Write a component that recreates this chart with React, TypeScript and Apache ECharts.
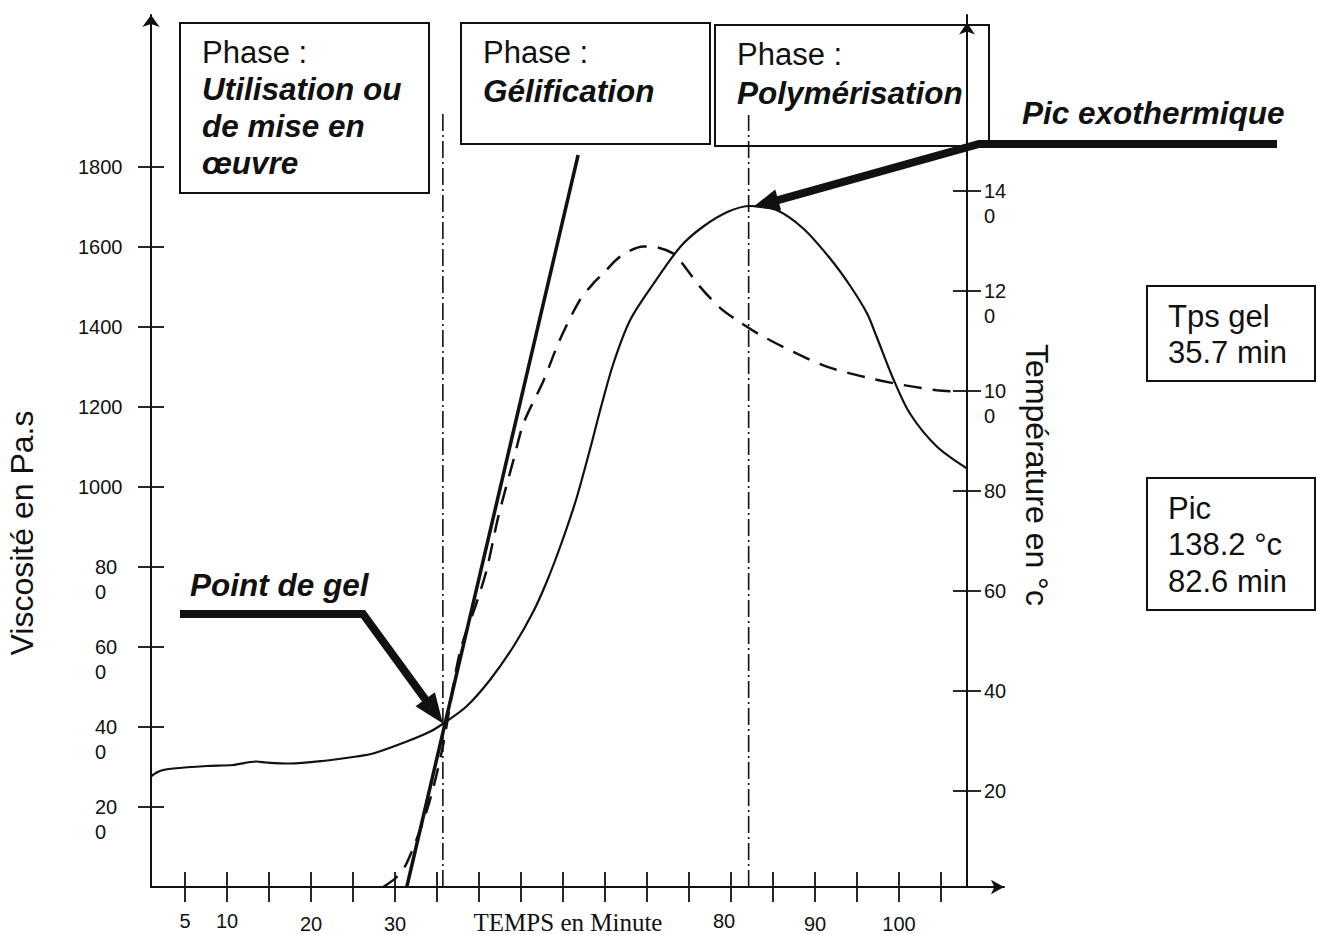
import React, { useEffect, useRef } from 'react';
import * as echarts from 'echarts';

// ---------------- data ----------------
// x values are in minutes on the drawn tick scale (one tick = 5 min)
const tempMinutes = [1.0, 2.0, 3.6, 7.6, 10.7, 13.5, 14.7, 17.5, 21.4, 25.4, 27.4, 31.4, 34.2, 35.75, 38.5, 41.3, 44.1, 46.5, 48.1, 49.8, 51.6, 53.4, 54.4, 56.0, 58.0, 60.8, 64.0, 66.7, 69.7, 72.3, 75.4, 78.6, 81.8, 84.2, 86.2, 87.3, 89.3, 91.3, 94.5, 98.1];
const tempValues = [23.0, 24.0, 24.5, 25.0, 25.2, 25.9, 25.7, 25.5, 26.0, 26.9, 27.5, 29.9, 31.9, 33.5, 36.9, 42.2, 48.9, 56.0, 62.0, 69.5, 78.5, 89.5, 96.0, 105.5, 114.2, 121.5, 128.9, 132.9, 135.9, 137.0, 136.2, 132.5, 126.5, 121.0, 115.5, 111.0, 102.5, 95.5, 88.9, 84.5];

const viscMinutes = [28.6, 30.2, 31.4, 33.8, 35.6, 37.7, 39.7, 40.9, 42.3, 44.1, 45.3, 47.7, 49.6, 52.0, 53.6, 54.8, 56.8, 59.6, 61.2, 63.1, 63.9, 66.3, 68.7, 70.7, 73.5, 77.4, 81.4, 86.5, 90.5, 94.5, 97.3];
const viscValues = [0, 25, 60, 192, 342, 585, 710, 792, 926, 1067, 1159, 1267, 1367, 1467, 1509, 1534, 1576, 1601, 1599, 1584, 1567, 1501, 1448, 1417, 1380, 1338, 1301, 1272, 1255, 1242, 1238];

const tangentMinutes = [31.4, 51.8];
const tangentValues = [0, 1830];

const markerMinutes = [35.7, 72.1]; // gel point / exothermic peak (dash-dot lines)
const markerTops = [1935, 1930];

const gelPoint = [35.7, 33.5];
const peakPoint = [72.4, 137.0];

const xTickValues = [5, 10, 15, 20, 25, 30, 35, 40, 45, 50, 55, 60, 65, 70, 75, 80, 85, 90, 95];
const xLabelValues = [5, 10, 20, 30, 70, 80, 90];
const xLabelTexts = ['5', '10', '20', '30', '80', '90', '100'];

const viscTickValues = [200, 400, 600, 800, 1000, 1200, 1400, 1600, 1800];
const viscTickLabels = ['20\n0', '40\n0', '60\n0', '80\n0', '1000', '1200', '1400', '1600', '1800'];

const tempTickValues = [20, 40, 60, 80, 100, 120, 140];
const tempTickLabels = ['20', '40', '60', '80', '10\n0', '12\n0', '14\n0'];

// ---------------- styling ----------------
const FONT = "'Liberation Sans', Arial, Helvetica, sans-serif";
const SERIF = "'Liberation Serif', 'Times New Roman', serif";
const INK = '#111';

const X_MIN = 0.952, X_MAX = 102.5;
const V_MIN = 0, V_MAX = 2180;
const T_MIN = 0.8, T_MAX = 175.2;

const zip = (a: number[], b: number[]) => a.map((v, i) => [v, b[i]]);

const stacked = (s: string) => {
  const parts = s.split('\n');
  if (parts.length === 1) return `{p|${s}}`;
  return ['{b|\u00a0}', ...parts.map((p) => `{w|${p}}`)].join('\n');
};

const lowX = new Set(['20', '30', '90', '100']);
const shiftX = new Set(['80']);

const tickStyle = { color: INK, width: 1.8 };

function buildOption(): any {
  const baseX = { type: 'value', min: X_MIN, max: X_MAX, position: 'bottom', splitLine: { show: false } };
  const baseV = { type: 'value', min: V_MIN, max: V_MAX, position: 'left', splitLine: { show: false } };
  const baseT = { type: 'value', min: T_MIN, max: T_MAX, position: 'right', offset: -37, splitLine: { show: false } };
  return {
    animation: false,
    textStyle: { fontFamily: FONT, color: INK },
    grid: { left: 151, top: 15, width: 853, height: 872, containLabel: false, outerBoundsMode: 'none' },
    xAxis: [
      {
        ...baseX,
        axisLine: { show: true, onZero: false, symbol: ['none', 'arrow'], symbolSize: [11, 13], lineStyle: { color: INK, width: 2 } },
        axisTick: { show: true, customValues: xTickValues, length: 15, lineStyle: tickStyle },
        axisLabel: {
          show: true,
          customValues: xLabelValues,
          margin: 24,
          color: INK,
          fontSize: 20,
          fontFamily: FONT,
          formatter: (v: number) => {
            const i = xLabelValues.indexOf(Math.round(v));
            const t = i >= 0 ? xLabelTexts[i] : '';
            const key = lowX.has(t) ? 'lo' : shiftX.has(t) ? 'sh' : 'hi';
            return `{${key}|${t}}`;
          },
          rich: {
            hi: { fontSize: 20, lineHeight: 20, fontFamily: FONT, color: INK },
            lo: { fontSize: 20, lineHeight: 20, fontFamily: FONT, color: INK, padding: [5, 0, 0, 0] },
            sh: { fontSize: 20, lineHeight: 20, fontFamily: FONT, color: INK, padding: [0, 14, 0, 0] },
          },
        },
      },
      {
        ...baseX,
        axisLine: { show: false, onZero: false },
        axisTick: { show: true, inside: true, customValues: xTickValues, length: 15, lineStyle: tickStyle },
        axisLabel: { show: false },
      },
    ],
    yAxis: [
      {
        ...baseV,
        axisLine: { show: true, onZero: false, symbol: ['none', 'arrow'], symbolSize: [13, 12], lineStyle: { color: INK, width: 2 } },
        axisTick: { show: true, customValues: viscTickValues, length: 13, lineStyle: tickStyle },
        axisLabel: {
          show: true,
          customValues: viscTickValues,
          align: 'left',
          margin: 73,
          color: INK,
          fontSize: 20,
          fontFamily: FONT,
          formatter: (v: number) => {
            const i = viscTickValues.indexOf(Math.round(v));
            return i >= 0 ? stacked(viscTickLabels[i]) : '';
          },
          rich: {
            p: { fontSize: 20, lineHeight: 25, fontFamily: FONT, color: INK },
            b: { fontSize: 20, lineHeight: 25, fontFamily: FONT, color: INK },
            w: { fontSize: 20, lineHeight: 25, fontFamily: FONT, color: INK, padding: [0, 0, 0, 17] },
          },
        },
      },
      {
        ...baseV,
        axisLine: { show: false, onZero: false },
        axisTick: { show: true, inside: true, customValues: viscTickValues, length: 13, lineStyle: tickStyle },
        axisLabel: { show: false },
      },
      {
        ...baseT,
        axisLine: { show: true, onZero: false, symbol: ['none', 'arrow'], symbolSize: [12, 12], symbolOffset: [0, -7.5], lineStyle: { color: INK, width: 2 } },
        axisTick: { show: true, customValues: tempTickValues, length: 14, lineStyle: tickStyle },
        axisLabel: {
          show: true,
          customValues: tempTickValues,
          align: 'left',
          margin: 17,
          color: INK,
          fontSize: 20,
          fontFamily: FONT,
          formatter: (v: number) => {
            const i = tempTickValues.indexOf(Math.round(v));
            return i >= 0 ? stacked(tempTickLabels[i]) : '';
          },
          rich: {
            p: { fontSize: 20, lineHeight: 25, fontFamily: FONT, color: INK },
            b: { fontSize: 20, lineHeight: 25, fontFamily: FONT, color: INK },
            w: { fontSize: 20, lineHeight: 25, fontFamily: FONT, color: INK },
          },
        },
      },
      {
        ...baseT,
        axisLine: { show: false, onZero: false },
        axisTick: { show: true, inside: true, customValues: tempTickValues, length: 14, lineStyle: tickStyle },
        axisLabel: { show: false },
      },
    ],
    series: [
      {
        name: 'Température',
        type: 'line',
        xAxisIndex: 0,
        yAxisIndex: 2,
        data: zip(tempMinutes, tempValues),
        smooth: 0.3,
        symbol: 'none',
        lineStyle: { color: INK, width: 2.2 },
        z: 4,
      },
      {
        name: 'Viscosité',
        type: 'line',
        xAxisIndex: 0,
        yAxisIndex: 0,
        data: zip(viscMinutes, viscValues),
        smooth: 0.3,
        symbol: 'none',
        lineStyle: { color: INK, width: 2.5, type: [18, 11] },
        z: 3,
      },
      {
        name: 'Tangente',
        type: 'line',
        xAxisIndex: 0,
        yAxisIndex: 0,
        data: zip(tangentMinutes, tangentValues),
        symbol: 'none',
        lineStyle: { color: INK, width: 3.5 },
        z: 3,
      },
      ...markerMinutes.map((m, i) => ({
        name: i === 0 ? 'Point de gel' : 'Pic exothermique',
        type: 'line',
        xAxisIndex: 0,
        yAxisIndex: 0,
        data: [[m, 0], [m, markerTops[i]]],
        symbol: 'none',
        lineStyle: { color: INK, width: 1.6, type: [17, 4, 2, 4] },
        z: 2,
      })),
    ],
  };
}

function arrow(points: number[][], tip: number[], headLen: number, headW: number, width: number) {
  const prev = points[points.length - 1];
  const dx = tip[0] - prev[0];
  const dy = tip[1] - prev[1];
  const len = Math.hypot(dx, dy);
  const ux = dx / len, uy = dy / len;
  const bx = tip[0] - ux * headLen, by = tip[1] - uy * headLen;
  const px = -uy, py = ux;
  const shaftEnd = [tip[0] - ux * (headLen - 3), tip[1] - uy * (headLen - 3)];
  return [
    { type: 'polyline', shape: { points: [...points, shaftEnd] }, style: { stroke: INK, lineWidth: width, lineJoin: 'miter' }, z: 20 },
    {
      type: 'polygon',
      shape: { points: [tip, [bx + (px * headW) / 2, by + (py * headW) / 2], [bx - (px * headW) / 2, by - (py * headW) / 2]] },
      style: { fill: INK },
      z: 20,
    },
  ];
}

const txt = (text: string, x: number, y: number, extra: any = {}) => ({
  type: 'text',
  x,
  y,
  z: 20,
  style: { text, fill: INK, fontFamily: FONT, fontSize: 31, align: 'left', verticalAlign: 'middle', ...extra },
});
const bi = { fontWeight: 'bold', fontStyle: 'italic', fontSize: 31.5 };
const box = (x: number, y: number, w: number, h: number) => ({
  type: 'rect',
  z: 20,
  shape: { x, y, width: w, height: h },
  style: { fill: 'none', stroke: INK, lineWidth: 2 },
});

function buildGraphics(gelTip: number[], peakTip: number[]) {
  return [
    box(180, 23, 249, 170),
    txt('Phase :', 202, 52),
    txt('Utilisation ou', 202, 89, bi),
    txt('de mise en', 202, 126, bi),
    txt('œuvre', 202, 163, bi),

    box(461, 23, 249, 121),
    txt('Phase :', 483, 52.5),
    txt('Gélification', 483, 91, bi),

    box(715, 25, 274, 121),
    txt('Phase :', 737, 54),
    txt('Polymérisation', 737, 92.5, bi),

    txt('Pic exothermique', 1022, 113, bi),
    ...arrow([[1277, 144], [979, 144]], peakTip, 26, 22, 8),

    txt('Point de gel', 190, 585, bi),
    ...arrow([[180, 614], [363, 614]], gelTip, 30, 24, 8),

    box(1147, 286, 168, 95),
    txt('Tps gel', 1168, 316),
    txt('35.7 min', 1168, 352),

    box(1147, 478, 168, 132),
    txt('Pic', 1168, 508),
    txt('138.2 °c', 1168, 544),
    txt('82.6 min', 1168, 581),

    {
      ...txt('Viscosité en Pa.s', 22, 533, { align: 'center', fontSize: 32 }),
      rotation: Math.PI / 2,
    },
    {
      ...txt('Température en °c', 1037, 475, { align: 'center', fontSize: 32 }),
      rotation: -Math.PI / 2,
    },
    txt('TEMPS en Minute', 568, 922, { align: 'center', fontFamily: SERIF, fontSize: 25 }),
  ];
}

export default function App() {
  const ref = useRef<HTMLDivElement>(null);
  useEffect(() => {
    document.body.style.margin = '0';
    const chart = echarts.init(ref.current!, null, { renderer: 'svg' });
    chart.setOption(buildOption());
    const gelTip = chart.convertToPixel({ seriesIndex: 0 }, gelPoint) as number[];
    const peakTip = chart.convertToPixel({ seriesIndex: 0 }, peakPoint) as number[];
    chart.setOption({ graphic: buildGraphics(gelTip, [peakTip[0] + 2, peakTip[1] + 1]) });
    return () => chart.dispose();
  }, []);
  return <div ref={ref} style={{ position: 'absolute', left: 0, top: 0, width: 1317, height: 934, background: '#fff' }} />;
}
